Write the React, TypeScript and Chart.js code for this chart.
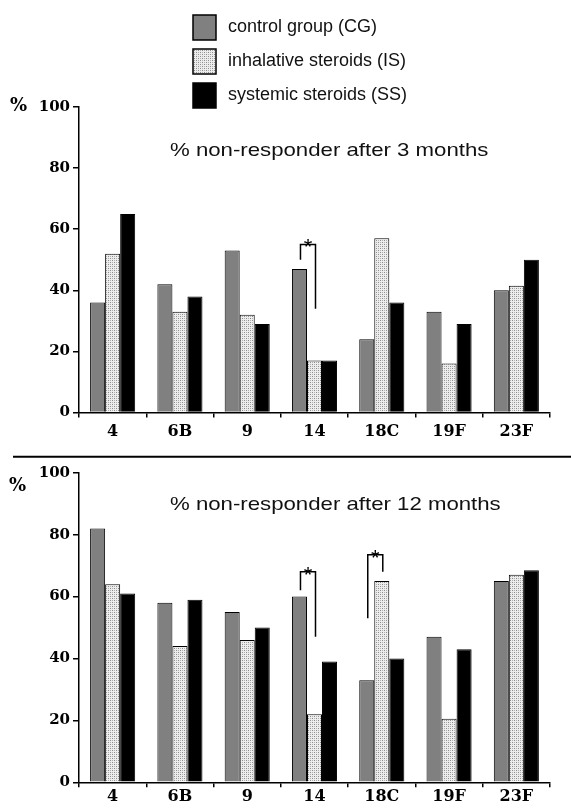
import React, { useEffect, useRef } from "react";
import { Chart, registerables } from "chart.js";
Chart.register(...registerables);

const categories = ["4", "6B", "9", "14", "18C", "19F", "23F"];
const seriesNames = ["control group (CG)", "inhalative steroids (IS)", "systemic steroids (SS)"];
const cg3 = [36, 42, 53, 47, 24, 33, 40];
const is3 = [52, 33, 32, 17, 57, 16, 41.5];
const ss3 = [65, 38, 29, 17, 36, 29, 50];
const cg12 = [82, 58, 55, 60, 33, 47, 65];
const is12 = [64, 44, 46, 22, 65, 20.5, 67];
const ss12 = [61, 59, 50, 39, 40, 43, 68.5];
const yMin = 0;
const yMax = 100;
const yStep = 20;
const title3 = "% non-responder after 3 months";
const title12 = "% non-responder after 12 months";
const unitLabel = "%";
const brackets3 = [{ category: "14", top: 55, leftEnd: 50, rightEnd: 34 }];
const brackets12 = [
  { category: "14", top: 68, leftEnd: 62, rightEnd: 47 },
  { category: "18C", top: 73.5, leftEnd: 53, rightEnd: 68 },
];

const W = 571;
const H1 = 450;
const H2 = 362;
const SANS = '"Liberation Sans", Arial, sans-serif';
const SERIF = '"DejaVu Serif", serif';
const CG_COLOR = "#808080";
const SS_COLOR = "#000000";

function makeStipple(ctx: CanvasRenderingContext2D): CanvasPattern | string {
  const c = document.createElement("canvas");
  c.width = 4;
  c.height = 4;
  const g = c.getContext("2d");
  if (!g) return "#d8d8d8";
  g.fillStyle = "#ededed";
  g.fillRect(0, 0, 4, 4);
  g.fillStyle = "#8c8c8c";
  g.fillRect(0, 0, 1, 1);
  g.fillRect(2, 2, 1, 1);
  g.fillStyle = "#b0b0b0";
  g.fillRect(2, 0, 1, 1);
  g.fillRect(0, 2, 1, 1);
  return ctx.createPattern(c, "repeat") || "#d8d8d8";
}

type Bracket = { category: string; top: number; leftEnd: number; rightEnd: number };

interface PanelOpts {
  values: number[][];
  title: string;
  brackets: Bracket[];
  height: number;
  chartTop: number;
  chartBottom: number;
  xLabelPad: number;
  titleDy: number;
  pctPos: [number, number];
  showLegend: boolean;
  separatorY: number | null;
}

function createPanel(canvas: HTMLCanvasElement, o: PanelOpts): Chart {
  const ctx = canvas.getContext("2d") as CanvasRenderingContext2D;
  const stipple = makeStipple(ctx);
  const fills = [CG_COLOR, stipple, SS_COLOR];

  const overlay = {
    id: "overlay",
    afterDraw(chart: any) {
      const c: CanvasRenderingContext2D = chart.ctx;
      const area = chart.chartArea;
      const ys = chart.scales.y;
      c.save();
      // title
      c.fillStyle = "#111";
      c.font = `18.5px ${SANS}`;
      c.textAlign = "left";
      c.textBaseline = "middle";
      c.save();
      c.translate(area.left + 91, area.top + o.titleDy);
      c.scale(1.2, 1);
      c.fillText(o.title, 0, 0);
      c.restore();
      // % unit label
      c.fillStyle = "#000";
      c.font = `bold 18px ${SERIF}`;
      c.textBaseline = "middle";
      c.fillText(unitLabel, o.pctPos[0], o.pctPos[1]);
      // brackets
      c.strokeStyle = "#000";
      c.lineWidth = 1.5;
      o.brackets.forEach((b) => {
        const idx = categories.indexOf(b.category);
        const x1 = chart.getDatasetMeta(0).data[idx].x + 1;
        const x2 = chart.getDatasetMeta(1).data[idx].x + 1;
        const yt = ys.getPixelForValue(b.top);
        const yl = ys.getPixelForValue(b.leftEnd);
        const yr = ys.getPixelForValue(b.rightEnd);
        c.beginPath();
        c.moveTo(x1, yl);
        c.lineTo(x1, yt);
        c.lineTo(x2, yt);
        c.lineTo(x2, yr);
        c.stroke();
        c.fillStyle = "#000";
        c.font = `22px ${SANS}`;
        c.textAlign = "center";
        c.textBaseline = "alphabetic";
        c.fillText("*", (x1 + x2) / 2, yt + 10);
      });
      // separator
      if (o.separatorY !== null) {
        c.lineWidth = 2;
        c.beginPath();
        c.moveTo(13, o.separatorY);
        c.lineTo(W, o.separatorY);
        c.stroke();
      }
      // legend
      if (o.showLegend) {
        const boxX = 193;
        const boxW = 23;
        const boxH = 25;
        const tops = [15, 49, 83];
        seriesNames.forEach((name, i) => {
          c.fillStyle = fills[i] as any;
          c.fillRect(boxX, tops[i], boxW, boxH);
          c.lineWidth = 1.5;
          c.strokeStyle = "#000";
          c.strokeRect(boxX, tops[i], boxW, boxH);
          c.fillStyle = "#111";
          c.font = `18px ${SANS}`;
          c.textAlign = "left";
          c.textBaseline = "middle";
          c.fillText(name, 228, tops[i] + boxH / 2);
        });
      }
      c.restore();
    },
  };

  return new Chart(canvas, {
    type: "bar",
    data: {
      labels: categories,
      datasets: seriesNames.map((name, i) => ({
        label: name,
        data: o.values[i],
        backgroundColor: fills[i] as any,
        borderColor: "#000",
        borderWidth: 1,
        categoryPercentage: 0.67,
        barPercentage: 1,
      })),
    },
    options: {
      responsive: false,
      animation: false,
      events: [],
      layout: { padding: { top: o.chartTop, right: 21, bottom: 0, left: 0 } },
      plugins: {
        legend: { display: false },
        tooltip: { enabled: false },
        title: { display: false },
      },
      scales: {
        x: {
          grid: {
            drawOnChartArea: false,
            drawTicks: true,
            tickLength: 5,
            color: "#000",
            lineWidth: 1.5,
            offset: true,
          },
          border: { display: true, color: "#000", width: 1.5 },
          ticks: {
            color: "#000",
            padding: o.xLabelPad,
            font: { family: SERIF, size: 16, weight: "bold" },
            maxRotation: 0,
          },
          afterFit: (scale: any) => {
            scale.height = o.height - o.chartBottom;
          },
        },
        y: {
          min: yMin,
          max: yMax,
          grid: {
            drawOnChartArea: false,
            drawTicks: true,
            tickLength: 6,
            color: "#000",
            lineWidth: 1.5,
          },
          border: { display: true, color: "#000", width: 1.5 },
          ticks: {
            stepSize: yStep,
            color: "#000",
            padding: 3,
            font: { family: SERIF, size: 15, weight: "bold" },
          },
          afterFit: (scale: any) => {
            scale.width = 79;
          },
        },
      },
    },
    plugins: [overlay],
  } as any);
}

export default function App() {
  const ref1 = useRef<HTMLCanvasElement>(null);
  const ref2 = useRef<HTMLCanvasElement>(null);

  useEffect(() => {
    if (!ref1.current || !ref2.current) return;
    const c1 = createPanel(ref1.current, {
      values: [cg3, is3, ss3],
      title: title3,
      brackets: brackets3,
      height: H1,
      chartTop: 107,
      chartBottom: 412.5,
      xLabelPad: 5,
      titleDy: 43.5,
      pctPos: [10, 106],
      showLegend: true,
      separatorY: null,
    });
    const c2 = createPanel(ref2.current, {
      values: [cg12, is12, ss12],
      title: title12,
      brackets: brackets12,
      height: H2,
      chartTop: 22.7,
      chartBottom: 332.3,
      xLabelPad: 0,
      titleDy: 32.3,
      pctPos: [9, 36],
      showLegend: false,
      separatorY: 6.7,
    });
    return () => {
      c1.destroy();
      c2.destroy();
    };
  }, []);

  return (
    <div style={{ position: "absolute", left: 0, top: 0, width: W, height: H1 + H2, background: "#fff" }}>
      <canvas ref={ref1} width={W} height={H1} style={{ display: "block", width: W, height: H1 }} />
      <canvas ref={ref2} width={W} height={H2} style={{ display: "block", width: W, height: H2 }} />
    </div>
  );
}
